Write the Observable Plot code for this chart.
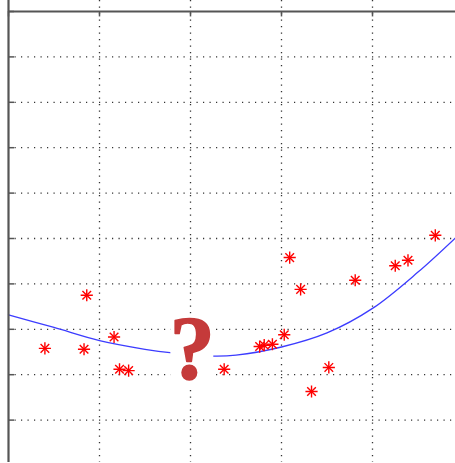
<!DOCTYPE html>
<html>
<head>
<meta charset="utf-8">
<script src="https://cdn.jsdelivr.net/npm/d3@7"></script>
<script src="https://cdn.jsdelivr.net/npm/@observablehq/plot@0.6"></script>
<style>
  html, body { margin: 0; padding: 0; overflow: hidden; background: white; }
  svg { overflow: hidden; }
</style>
</head>
<body>
<div id="chart"></div>
<script>
// Grid ticks
const xTicks = [0, 1, 2, 3, 4, 5];
const yTicks = [0, 1, 2, 3, 4, 5, 6, 7, 8, 9, 10];

// Scattered samples (red asterisks)
const px = [0.40, 0.86, 0.83, 1.16, 1.22, 1.32, 2.37, 2.76, 2.81, 2.90, 3.03, 3.09, 3.21, 3.33, 3.52, 3.81, 4.25, 4.39, 4.69];
const py = [2.58, 3.75, 2.56, 2.83, 2.12, 2.09, 2.12, 2.62, 2.65, 2.67, 2.88, 4.58, 3.88, 1.63, 2.16, 4.08, 4.40, 4.52, 5.07];

// Fitted curve (blue)
const cx = [0, 0.5, 1.0, 1.5, 1.8, 2.24, 2.5, 3.0, 3.5, 4.0, 4.5, 4.92];
const cy = [3.32, 3.04, 2.75, 2.56, 2.48, 2.41, 2.43, 2.61, 2.92, 3.46, 4.26, 5.03];

// Question-mark annotation
const note = [{label: "?", x: 2.02, y: 2.53, w: 0.236, h: 0.80}];

const points = px.map((x, i) => ({x, y: py[i]}));
const curve = cx.map((x, i) => ({x, y: cy[i]}));

const chart = Plot.plot({
  width: 455,
  height: 463,
  x: {domain: [0, 5], range: [8, 463], axis: null},
  y: {domain: [0, 10], range: [465, 11], axis: null},
  marks: [
    Plot.ruleX(xTicks.filter(d => d > 0), {stroke: "#333", strokeWidth: 1.3, strokeDasharray: "1.2,5.3"}),
    Plot.ruleY(yTicks.filter(d => d < 10), {x1: 0, x2: 5, stroke: "#333", strokeWidth: 1.3, strokeDasharray: "1.2,5.3"}),
    Plot.line(curve, {x: "x", y: "y", stroke: "#3c3cff", strokeWidth: 1.3, curve: "catmull-rom"}),
    Plot.dot(points, {x: "x", y: "y", symbol: "plus", r: 4, stroke: "#ff0000", strokeWidth: 1.4}),
    Plot.dot(points, {x: "x", y: "y", symbol: "times", r: 4, stroke: "#ff0000", strokeWidth: 1.4}),
    Plot.rect(note, {x1: d => d.x - d.w, x2: d => d.x + d.w, y1: d => d.y - d.h, y2: d => d.y + d.h, fill: "white"}),
    Plot.text(note, {x: "x", y: "y", text: "label", fontSize: 90, fontFamily: "Liberation Serif", fontWeight: "bold", fill: "#c53a3a", stroke: "#c53a3a", strokeWidth: 1.6}),
    // inward tick marks
    Plot.ruleY(yTicks, {x1: 0, x2: 0.066, stroke: "#555", strokeWidth: 1.5}),
    Plot.ruleX(xTicks, {y1: 10, y2: 9.88, stroke: "#555", strokeWidth: 1.5}),
    // frame (left and top)
    Plot.ruleX([0], {stroke: "#555", strokeWidth: 2.2}),
    Plot.ruleY([10], {x1: 0, x2: 5, stroke: "#555", strokeWidth: 2.2})
  ]
});
document.getElementById("chart").appendChild(chart);
</script>
</body>
</html>
